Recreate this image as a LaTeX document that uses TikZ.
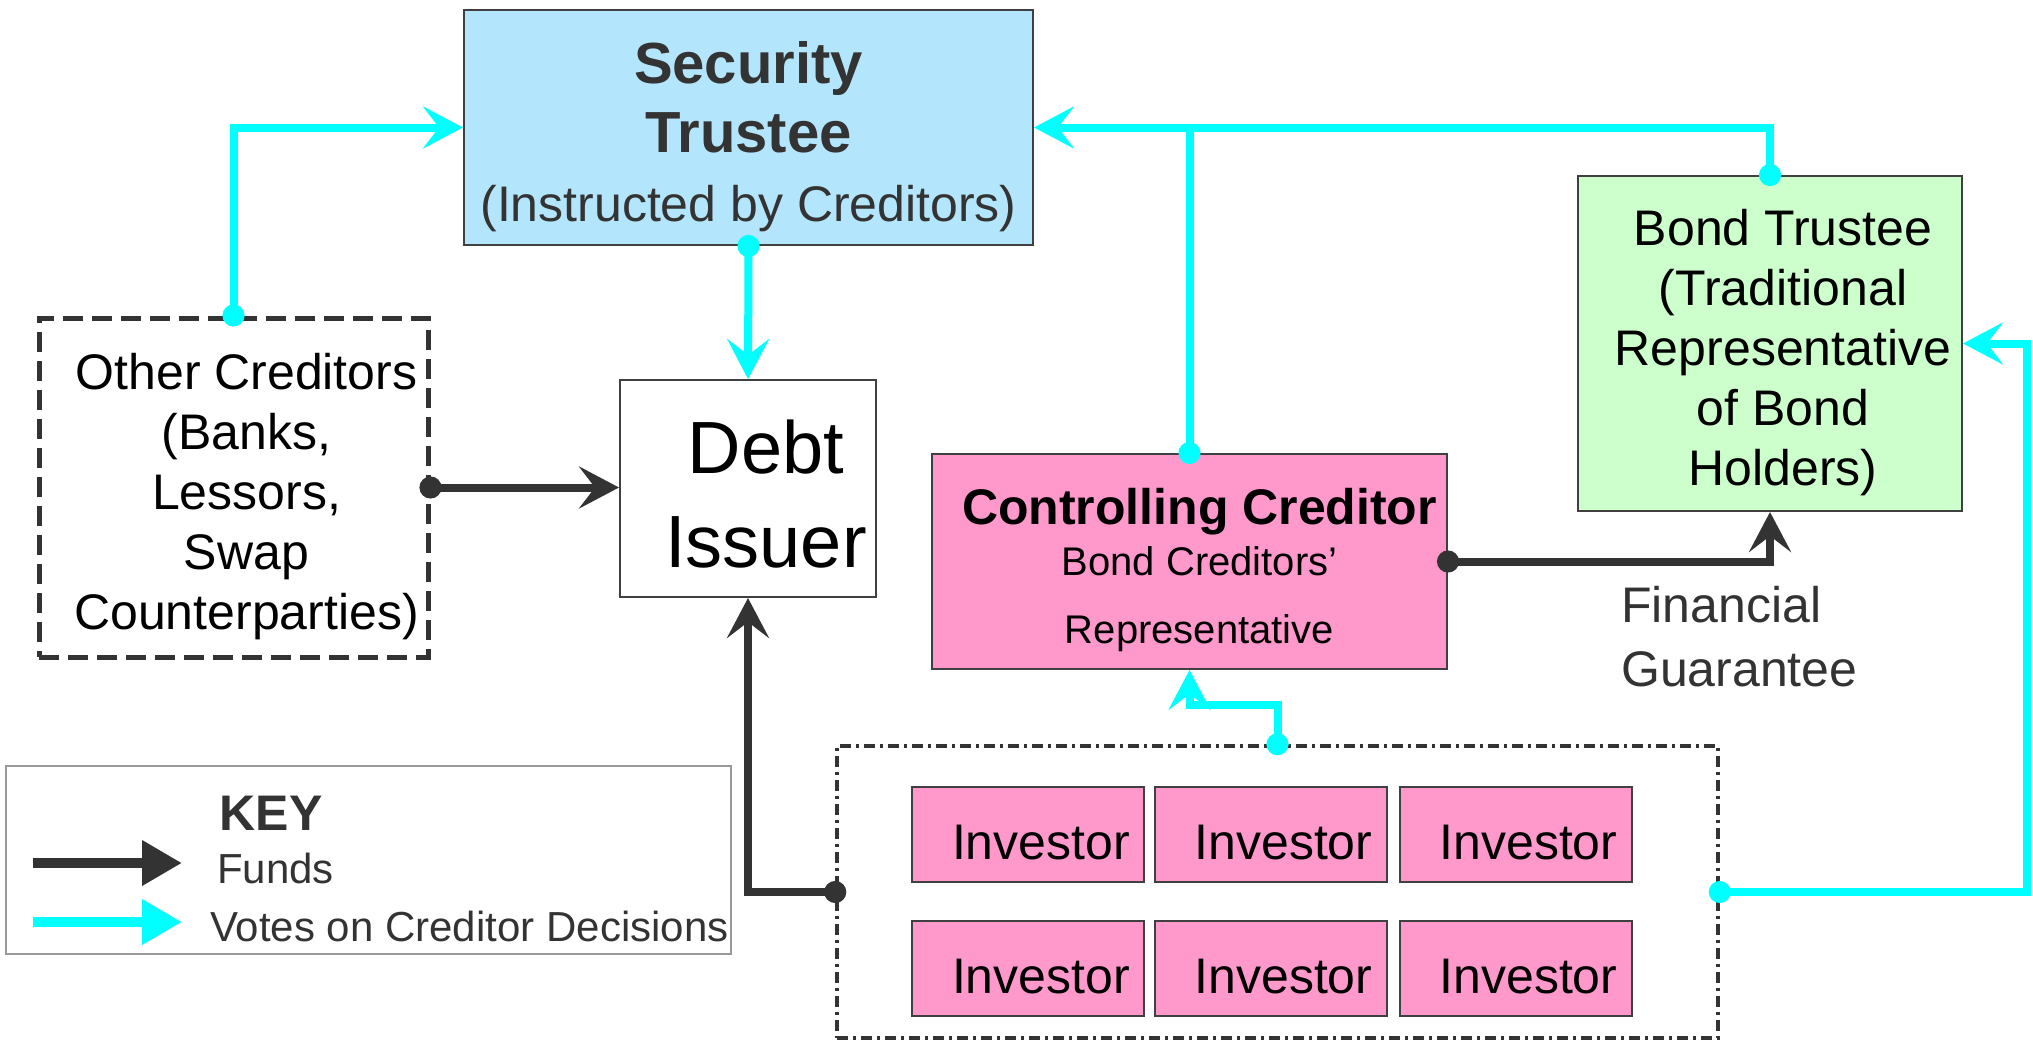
\documentclass[tikz,border=0pt]{standalone}
\usepackage{fontspec}
\setmainfont{Liberation Sans}
\usetikzlibrary{arrows.meta}

\definecolor{fundc}{HTML}{333333}
\definecolor{votec}{HTML}{00FFFF}
\definecolor{edgec}{HTML}{404040}
\definecolor{stfill}{HTML}{B3E5FC}
\definecolor{btfill}{HTML}{CCFFCC}
\definecolor{pinkfill}{HTML}{FF99CC}

\begin{document}
\begin{tikzpicture}[
    x=1pt, y=-1pt,
    box/.style={draw=edgec, line width=2pt, inner sep=0pt},
    txt/.style={align=center, inner sep=0pt},
    big/.style={font=\fontsize{50}{60}\selectfont},
    investor/.style={box, fill=pinkfill, minimum width=232pt, minimum height=95pt},
    vote/.style={votec, line width=8pt, shorten <=-11pt,
        arrows={Circle[length=22pt]-Stealth[length=40pt,width=42pt,inset=16pt]}},
    votejoin/.style={votec, line width=8pt, shorten <=-11pt, arrows={Circle[length=22pt]-}},
    fund/.style={fundc, line width=8pt, shorten <=-11pt,
        arrows={Circle[length=22pt]-Stealth[length=40pt,width=42pt,inset=16pt]}},
    keytxt/.style={anchor=west, inner sep=0pt, text=fundc, font=\fontsize{42}{50}\selectfont}
    ]
\useasboundingbox (0,0) rectangle (2033,1041);

% boxes
\node[box, fill=stfill, minimum width=569pt, minimum height=235pt] (st) at (748.5,127.5) {};
\node[box, draw=fundc, line width=5pt, dash pattern=on 20pt off 9pt,
      minimum width=389pt, minimum height=339pt] (oc) at (233.5,487.5) {};
\node[box, minimum width=256pt, minimum height=217pt] (di) at (748,488.5) {};
\node[box, fill=pinkfill, minimum width=515pt, minimum height=215pt] (cc) at (1189.5,561.5) {};
\node[box, fill=btfill, minimum width=384pt, minimum height=335pt] (bt) at (1770,343.5) {};

% texts
\node[txt, text=fundc, font=\fontsize{50}{69}\selectfont] (stt) at ([shift={(0,9)}]st.center)
    {{\bfseries\fontsize{58}{69}\selectfont Security}\\{\bfseries\fontsize{58}{69}\selectfont Trustee}\\(Instructed by Creditors)};
\node[txt, big] (oct) at ([shift={(13,9)}]oc.center)
    {Other Creditors\\(Banks,\\Lessors,\\Swap\\Counterparties)};
\node[txt, font=\fontsize{74}{94}\selectfont] (dit) at ([shift={(18,6)}]di.center) {Debt\\Issuer};
\node[txt, font=\fontsize{40}{51}\selectfont] (cct) at ([shift={(10,9)}]cc.center)
    {{\bfseries\fontsize{50}{51}\selectfont Controlling Creditor}\\Bond Creditors'\\[17pt]Representative};
\node[txt, big] (btt) at ([shift={(13,9)}]bt.center)
    {Bond Trustee\\(Traditional\\Representative\\of Bond\\Holders)};
\node[anchor=west, align=left, inner sep=0pt, text=fundc,
      font=\fontsize{50}{64}\selectfont] (fg) at (1621,637) {Financial\\Guarantee};

% investors
\node[draw=fundc, line width=3.5pt, dash pattern=on 11pt off 5pt on 3pt off 5pt,
      minimum width=881pt, minimum height=292pt] (pool) at (1277.5,892) {};
\foreach \r/\y in {1/834.5, 2/968.5}
    \foreach \c/\x in {1/1028, 2/1270.5, 3/1515.5} {
        \node[investor] (inv\r\c) at (\x,\y) {};
        \node[txt, big] at ([shift={(13,8)}]inv\r\c.center) {Investor};
    }

\coordinate (rt) at (2027,0);

\draw[vote] (oc.north) |- (st.west);
\draw[vote] (st.south) -- (di.north);
\draw[vote] (bt.north) |- (st.east);
\draw[votejoin] (cc.north) -- (cc.north |- st.east);
\draw[vote] (pool.north) -- ++(0,-39) -| (cc.south);
\draw[vote] (pool.east) -- (pool.east -| rt) |- (bt.east);
\draw[fund] (oc.east) -- (oc.east -| di.west);
\draw[fund] (cc.east) -| (bt.south);
\draw[fund] (pool.west) -| (di.south);

% key
\node[draw=gray!80, line width=2pt, minimum width=725pt, minimum height=188pt] (key) at (368.5,860) {};
\node[text=fundc, font=\bfseries\fontsize{50}{60}\selectfont] (keyt) at (271,813) {KEY};
\node[keytxt] (kf) at (217,868) {Funds};
\node[keytxt] (kv) at (210,926) {Votes on Creditor Decisions};
\coordinate (kf1) at (33,863);
\coordinate (kf2) at (182,863);
\coordinate (kv1) at (33,922);
\coordinate (kv2) at (182,922);
\draw[fundc, line width=10pt, -{Triangle[length=40pt,width=43pt]}] (kf1) -- (kf2);
\draw[votec, line width=10pt, -{Triangle[length=40pt,width=43pt]}] (kv1) -- (kv2);

\end{tikzpicture}
\end{document}
